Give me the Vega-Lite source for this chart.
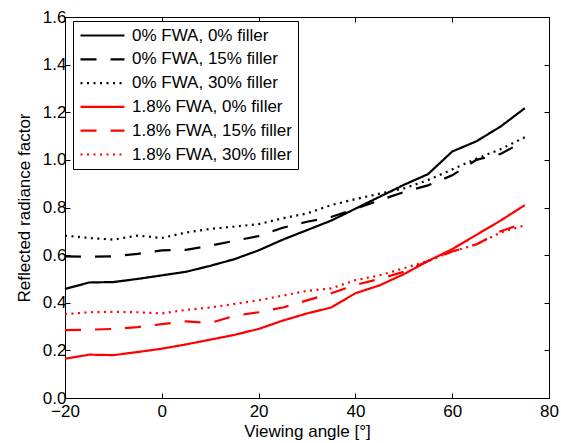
{
  "$schema": "https://vega.github.io/schema/vega-lite/v6.json",
  "width": 484,
  "height": 381,
  "autosize": {"type": "none"},
  "padding": {"left": 65, "top": 17, "right": 12, "bottom": 45},
  "background": "white",
  "config": {
    "view": {"stroke": "black", "strokeWidth": 1},
    "font": "Liberation Sans",
    "axis": {
      "grid": false,
      "domainColor": "black",
      "tickColor": "black",
      "tickSize": -5,
      "labelColor": "black",
      "labelFontSize": 17,
      "labelFont": "Liberation Sans",
      "titleFont": "Liberation Sans",
      "titleFontSize": 17,
      "titleFontWeight": "normal",
      "titleColor": "black"
    }
  },
  "datasets": {
    "d": [
      {"angle": -20, "value": 0.458, "series": "0% FWA, 0% filler"},
      {"angle": -15, "value": 0.485, "series": "0% FWA, 0% filler"},
      {"angle": -10, "value": 0.487, "series": "0% FWA, 0% filler"},
      {"angle": -5, "value": 0.5, "series": "0% FWA, 0% filler"},
      {"angle": 0, "value": 0.515, "series": "0% FWA, 0% filler"},
      {"angle": 5, "value": 0.53, "series": "0% FWA, 0% filler"},
      {"angle": 10, "value": 0.555, "series": "0% FWA, 0% filler"},
      {"angle": 15, "value": 0.583, "series": "0% FWA, 0% filler"},
      {"angle": 20, "value": 0.62, "series": "0% FWA, 0% filler"},
      {"angle": 25, "value": 0.665, "series": "0% FWA, 0% filler"},
      {"angle": 30, "value": 0.705, "series": "0% FWA, 0% filler"},
      {"angle": 35, "value": 0.745, "series": "0% FWA, 0% filler"},
      {"angle": 40, "value": 0.795, "series": "0% FWA, 0% filler"},
      {"angle": 45, "value": 0.845, "series": "0% FWA, 0% filler"},
      {"angle": 50, "value": 0.895, "series": "0% FWA, 0% filler"},
      {"angle": 55, "value": 0.94, "series": "0% FWA, 0% filler"},
      {"angle": 60, "value": 1.035, "series": "0% FWA, 0% filler"},
      {"angle": 65, "value": 1.078, "series": "0% FWA, 0% filler"},
      {"angle": 70, "value": 1.14, "series": "0% FWA, 0% filler"},
      {"angle": 75, "value": 1.217, "series": "0% FWA, 0% filler"},

      {"angle": -20, "value": 0.595, "series": "0% FWA, 15% filler"},
      {"angle": -15, "value": 0.593, "series": "0% FWA, 15% filler"},
      {"angle": -10, "value": 0.595, "series": "0% FWA, 15% filler"},
      {"angle": -5, "value": 0.605, "series": "0% FWA, 15% filler"},
      {"angle": 0, "value": 0.62, "series": "0% FWA, 15% filler"},
      {"angle": 5, "value": 0.622, "series": "0% FWA, 15% filler"},
      {"angle": 10, "value": 0.64, "series": "0% FWA, 15% filler"},
      {"angle": 15, "value": 0.66, "series": "0% FWA, 15% filler"},
      {"angle": 20, "value": 0.68, "series": "0% FWA, 15% filler"},
      {"angle": 25, "value": 0.715, "series": "0% FWA, 15% filler"},
      {"angle": 30, "value": 0.74, "series": "0% FWA, 15% filler"},
      {"angle": 35, "value": 0.76, "series": "0% FWA, 15% filler"},
      {"angle": 40, "value": 0.795, "series": "0% FWA, 15% filler"},
      {"angle": 45, "value": 0.83, "series": "0% FWA, 15% filler"},
      {"angle": 50, "value": 0.865, "series": "0% FWA, 15% filler"},
      {"angle": 55, "value": 0.893, "series": "0% FWA, 15% filler"},
      {"angle": 60, "value": 0.935, "series": "0% FWA, 15% filler"},
      {"angle": 65, "value": 1.0, "series": "0% FWA, 15% filler"},
      {"angle": 70, "value": 1.025, "series": "0% FWA, 15% filler"},
      {"angle": 75, "value": 1.08, "series": "0% FWA, 15% filler"},

      {"angle": -20, "value": 0.682, "series": "0% FWA, 30% filler"},
      {"angle": -15, "value": 0.672, "series": "0% FWA, 30% filler"},
      {"angle": -10, "value": 0.665, "series": "0% FWA, 30% filler"},
      {"angle": -5, "value": 0.682, "series": "0% FWA, 30% filler"},
      {"angle": 0, "value": 0.672, "series": "0% FWA, 30% filler"},
      {"angle": 5, "value": 0.695, "series": "0% FWA, 30% filler"},
      {"angle": 10, "value": 0.71, "series": "0% FWA, 30% filler"},
      {"angle": 15, "value": 0.72, "series": "0% FWA, 30% filler"},
      {"angle": 20, "value": 0.73, "series": "0% FWA, 30% filler"},
      {"angle": 25, "value": 0.755, "series": "0% FWA, 30% filler"},
      {"angle": 30, "value": 0.775, "series": "0% FWA, 30% filler"},
      {"angle": 35, "value": 0.81, "series": "0% FWA, 30% filler"},
      {"angle": 40, "value": 0.835, "series": "0% FWA, 30% filler"},
      {"angle": 45, "value": 0.858, "series": "0% FWA, 30% filler"},
      {"angle": 50, "value": 0.88, "series": "0% FWA, 30% filler"},
      {"angle": 55, "value": 0.915, "series": "0% FWA, 30% filler"},
      {"angle": 60, "value": 0.96, "series": "0% FWA, 30% filler"},
      {"angle": 65, "value": 1.005, "series": "0% FWA, 30% filler"},
      {"angle": 70, "value": 1.045, "series": "0% FWA, 30% filler"},
      {"angle": 75, "value": 1.095, "series": "0% FWA, 30% filler"},

      {"angle": -20, "value": 0.165, "series": "1.8% FWA, 0% filler"},
      {"angle": -15, "value": 0.182, "series": "1.8% FWA, 0% filler"},
      {"angle": -10, "value": 0.18, "series": "1.8% FWA, 0% filler"},
      {"angle": -5, "value": 0.193, "series": "1.8% FWA, 0% filler"},
      {"angle": 0, "value": 0.207, "series": "1.8% FWA, 0% filler"},
      {"angle": 5, "value": 0.225, "series": "1.8% FWA, 0% filler"},
      {"angle": 10, "value": 0.245, "series": "1.8% FWA, 0% filler"},
      {"angle": 15, "value": 0.265, "series": "1.8% FWA, 0% filler"},
      {"angle": 20, "value": 0.29, "series": "1.8% FWA, 0% filler"},
      {"angle": 25, "value": 0.325, "series": "1.8% FWA, 0% filler"},
      {"angle": 30, "value": 0.355, "series": "1.8% FWA, 0% filler"},
      {"angle": 35, "value": 0.38, "series": "1.8% FWA, 0% filler"},
      {"angle": 40, "value": 0.44, "series": "1.8% FWA, 0% filler"},
      {"angle": 45, "value": 0.473, "series": "1.8% FWA, 0% filler"},
      {"angle": 50, "value": 0.52, "series": "1.8% FWA, 0% filler"},
      {"angle": 55, "value": 0.575, "series": "1.8% FWA, 0% filler"},
      {"angle": 60, "value": 0.625, "series": "1.8% FWA, 0% filler"},
      {"angle": 65, "value": 0.685, "series": "1.8% FWA, 0% filler"},
      {"angle": 70, "value": 0.745, "series": "1.8% FWA, 0% filler"},
      {"angle": 75, "value": 0.81, "series": "1.8% FWA, 0% filler"},

      {"angle": -20, "value": 0.285, "series": "1.8% FWA, 15% filler"},
      {"angle": -15, "value": 0.287, "series": "1.8% FWA, 15% filler"},
      {"angle": -10, "value": 0.29, "series": "1.8% FWA, 15% filler"},
      {"angle": -5, "value": 0.298, "series": "1.8% FWA, 15% filler"},
      {"angle": 0, "value": 0.31, "series": "1.8% FWA, 15% filler"},
      {"angle": 5, "value": 0.322, "series": "1.8% FWA, 15% filler"},
      {"angle": 10, "value": 0.315, "series": "1.8% FWA, 15% filler"},
      {"angle": 15, "value": 0.345, "series": "1.8% FWA, 15% filler"},
      {"angle": 20, "value": 0.36, "series": "1.8% FWA, 15% filler"},
      {"angle": 25, "value": 0.38, "series": "1.8% FWA, 15% filler"},
      {"angle": 30, "value": 0.41, "series": "1.8% FWA, 15% filler"},
      {"angle": 35, "value": 0.44, "series": "1.8% FWA, 15% filler"},
      {"angle": 40, "value": 0.475, "series": "1.8% FWA, 15% filler"},
      {"angle": 45, "value": 0.5, "series": "1.8% FWA, 15% filler"},
      {"angle": 50, "value": 0.53, "series": "1.8% FWA, 15% filler"},
      {"angle": 55, "value": 0.575, "series": "1.8% FWA, 15% filler"},
      {"angle": 60, "value": 0.615, "series": "1.8% FWA, 15% filler"},
      {"angle": 65, "value": 0.645, "series": "1.8% FWA, 15% filler"},
      {"angle": 70, "value": 0.7, "series": "1.8% FWA, 15% filler"},
      {"angle": 75, "value": 0.735, "series": "1.8% FWA, 15% filler"},

      {"angle": -20, "value": 0.352, "series": "1.8% FWA, 30% filler"},
      {"angle": -15, "value": 0.36, "series": "1.8% FWA, 30% filler"},
      {"angle": -10, "value": 0.362, "series": "1.8% FWA, 30% filler"},
      {"angle": -5, "value": 0.36, "series": "1.8% FWA, 30% filler"},
      {"angle": 0, "value": 0.355, "series": "1.8% FWA, 30% filler"},
      {"angle": 5, "value": 0.37, "series": "1.8% FWA, 30% filler"},
      {"angle": 10, "value": 0.38, "series": "1.8% FWA, 30% filler"},
      {"angle": 15, "value": 0.395, "series": "1.8% FWA, 30% filler"},
      {"angle": 20, "value": 0.41, "series": "1.8% FWA, 30% filler"},
      {"angle": 25, "value": 0.43, "series": "1.8% FWA, 30% filler"},
      {"angle": 30, "value": 0.45, "series": "1.8% FWA, 30% filler"},
      {"angle": 35, "value": 0.46, "series": "1.8% FWA, 30% filler"},
      {"angle": 40, "value": 0.495, "series": "1.8% FWA, 30% filler"},
      {"angle": 45, "value": 0.515, "series": "1.8% FWA, 30% filler"},
      {"angle": 50, "value": 0.545, "series": "1.8% FWA, 30% filler"},
      {"angle": 55, "value": 0.575, "series": "1.8% FWA, 30% filler"},
      {"angle": 60, "value": 0.615, "series": "1.8% FWA, 30% filler"},
      {"angle": 65, "value": 0.645, "series": "1.8% FWA, 30% filler"},
      {"angle": 70, "value": 0.695, "series": "1.8% FWA, 30% filler"},
      {"angle": 75, "value": 0.725, "series": "1.8% FWA, 30% filler"}
    ]
  },
  "data": {"name": "d"},
  "layer": [
    {
      "mark": {"type": "line", "strokeWidth": 2.2},
      "encoding": {
        "x": {
          "field": "angle", "type": "quantitative",
          "scale": {"domain": [-20, 80], "nice": false, "zero": false},
          "axis": {"orient": "bottom", "values": [-20, 0, 20, 40, 60, 80], "title": "Viewing angle [°]", "labelPadding": 10, "titlePadding": 4, "labelFlush": false}
        },
        "y": {
          "field": "value", "type": "quantitative",
          "scale": {"domain": [0, 1.6], "nice": false, "zero": false},
          "axis": {"orient": "left", "values": [0, 0.2, 0.4, 0.6, 0.8, 1, 1.2, 1.4, 1.6], "title": "Reflected radiance factor", "labelPadding": 4, "titlePadding": 9, "labelFlush": false}
        },
        "color": {
          "field": "series", "type": "nominal",
          "scale": {
            "domain": ["0% FWA, 0% filler", "0% FWA, 15% filler", "0% FWA, 30% filler", "1.8% FWA, 0% filler", "1.8% FWA, 15% filler", "1.8% FWA, 30% filler"],
            "range": ["#000000", "#000000", "#000000", "#ff0000", "#ff0000", "#ff0000"]
          },
          "legend": {
            "title": null, "orient": "none", "legendX": 8, "legendY": 4,
            "strokeColor": "black", "fillColor": "white", "padding": 6,
            "labelFontSize": 17, "labelFont": "Liberation Sans", "labelColor": "black",
            "symbolType": "stroke", "symbolSize": 1936, "symbolStrokeWidth": 2.2,
            "labelOffset": 6, "rowPadding": 5.8, "clipHeight": 17, "cornerRadius": 0
          }
        },
        "strokeDash": {
          "field": "series", "type": "nominal",
          "scale": {
            "domain": ["0% FWA, 0% filler", "0% FWA, 15% filler", "0% FWA, 30% filler", "1.8% FWA, 0% filler", "1.8% FWA, 15% filler", "1.8% FWA, 30% filler"],
            "range": [[1, 0], [16, 14], [2, 4.5], [1, 0], [16, 14], [2, 4.5]]
          },
          "legend": {
            "title": null, "orient": "none", "legendX": 8, "legendY": 4,
            "strokeColor": "black", "fillColor": "white", "padding": 6,
            "labelFontSize": 17, "labelFont": "Liberation Sans", "labelColor": "black",
            "symbolType": "stroke", "symbolSize": 1936, "symbolStrokeWidth": 2.2,
            "labelOffset": 6, "rowPadding": 5.8, "clipHeight": 17, "cornerRadius": 0
          }
        }
      }
    },
    {
      "mark": {"type": "line", "opacity": 0},
      "encoding": {
        "x": {
          "field": "angle", "type": "quantitative",
          "scale": {"domain": [-20, 80], "nice": false, "zero": false},
          "axis": {"orient": "top", "values": [-20, 0, 20, 40, 60, 80], "labels": false, "title": null}
        },
        "y": {
          "field": "value", "type": "quantitative",
          "scale": {"domain": [0, 1.6], "nice": false, "zero": false},
          "axis": {"orient": "right", "values": [0, 0.2, 0.4, 0.6, 0.8, 1, 1.2, 1.4, 1.6], "labels": false, "title": null}
        },
        "detail": {"field": "series", "type": "nominal"}
      }
    }
  ],
  "resolve": {"axis": {"x": "independent", "y": "independent"}}
}
